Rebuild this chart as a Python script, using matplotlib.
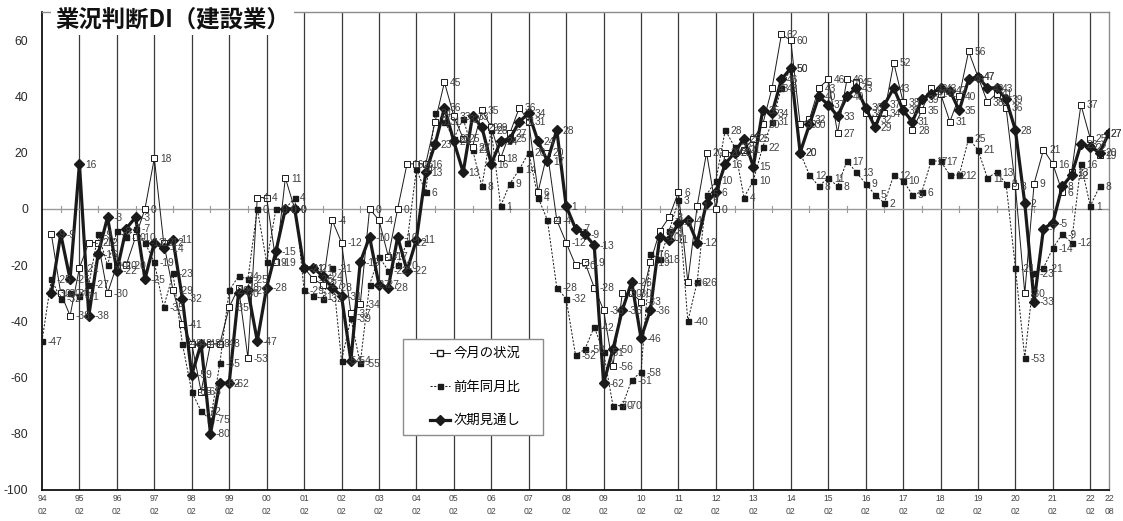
import numpy as np
import matplotlib
matplotlib.use("Agg")
import matplotlib.pyplot as plt
from matplotlib.lines import Line2D
from matplotlib.patches import Rectangle

plt.rcParams['font.family'] = ['Noto Sans CJK JP', 'DejaVu Sans']

# Quarterly survey points, 1994/02 .. 2022/08 (Feb, May, Aug, Nov)
years = ['94', '95', '96', '97', '98', '99', '00', '01', '02', '03', '04', '05', '06', '07',
         '08', '09', '10', '11', '12', '13', '14', '15', '16', '17', '18', '19', '20', '21', '22']
tick_labels = [f"{y}\n02" for y in years] + ["22\n08"]

N = None
# 今月の状況
current = [
    N, -9, -30, -38, -21, -12, -12, -30, -20, -20, -10, 0, 18, -12, -29,
    -41, -48, -65, -48, -48, -35, -28, -53, 4, 4, -19, 11, 0, -21, -25,
    -27, -4, -12, -37, -34, 0, -4, -17, 0, 16, 16, 16, 31, 45, 33,
    25, 22, 35, 29, 18, 27, 36, 31, 6, 20, -4, -12, -20, -19, -28,
    -36, -56, -30, -30, -33, -19, -8, -3, 6, -26, 1, 20, 0, 20, 20,
    21, 25, 30, 43, 62, 60, 30, 32, 43, 46, 27, 46, 45, 34, 32,
    34, 52, 38, 28, 35, 43, 41, 31, 40, 56, 47, 38, 41, 36, 8,
    -30, 9, 21, 16, 6, 13, 37, 25, 19, 27,
]
# 前年同月比
year_on_year = [
    -47, -25, -32, -30, -31, -27, -9, -20, -8, -10, -7, -12, -19, -35, -23,
    -48, -65, -72, -75, -55, -29, -24, -25, 0, -19, 0, 0, 4, -29, -31,
    -32, -21, -54, -39, -55, -27, -17, -22, -20, -12, 14, 6, 34, 31, 25,
    32, 21, 8, 28, 1, 9, 14, 20, 4, -4, -28, -32, -52, -50, -42,
    -51, -70, -70, -61, -58, -16, -18, -8, 3, -40, -26, 5, 10, 28, 22,
    4, 10, 22, 31, 43, 50, 20, 12, 8, 11, 8, 17, 13, 9, 5,
    2, 12, 10, 5, 6, 17, 17, 12, 12, 25, 21, 11, 13, 9, -21,
    -53, -23, -21, -14, -9, -12, 16, 1, 8, N,
]
# 次期見通し
outlook = [
    N, -30, -9, -25, 16, -38, -16, -3, -22, -7, -3, -25, -12, -14, -11,
    -32, -59, -48, -80, -62, -62, -30, -29, -47, -28, -15, 0, 0, -21, -21,
    -24, -28, -31, -54, -19, -10, -27, -28, -10, -22, -11, 13, 23, 36, 24,
    13, 33, 29, 16, 24, 25, 31, 34, 24, 17, 28, 1, -7, -9, -13,
    -62, -50, -36, -26, -46, -36, -10, -11, -5, -4, -12, 2, 6, 16, 20,
    25, 15, 35, 34, 46, 50, 20, 30, 40, 37, 33, 40, 43, 36, 29,
    37, 43, 35, 31, 39, 41, 43, 42, 35, 46, 47, 43, 43, 39, 28,
    2, -33, -7, -5, 8, 12, 23, 22, 20, 27,
]

def arr(v):
    return np.array([np.nan if x is None else x for x in v], dtype=float)

A, B, C = arr(current), arr(year_on_year), arr(outlook)
q = np.arange(len(C))
last = len(q) - 1

fig = plt.figure(figsize=(11.23, 5.21), dpi=100)
ax = fig.add_axes([42 / 1123, 1 - 490 / 521, (1109 - 42) / 1123, (490 - 12) / 521])
ax.set_xlim(0, last)
ax.set_ylim(-100, 70)

# year separators and zero line
for x in range(4, last, 4):
    ax.axvline(x, color='#3a3a3a', lw=0.9, zorder=1)
ax.axhline(0, color='#9a9a9a', lw=1.0, zorder=1)
for x in range(2, len(q), 4):
    ax.plot([x, x], [-1.0, 1.0], color='#9a9a9a', lw=0.8, zorder=1)

ink = '#1a1a1a'
ax.plot(q, B, color=ink, lw=0.7, ls=(0, (2.2, 1.6)), marker='s', ms=3.6,
        mfc=ink, mec=ink, zorder=3)
ax.plot(q, A, color=ink, lw=0.7, marker='s', ms=4.4, mfc='white', mec=ink,
        mew=0.7, zorder=4)
ax.plot(q, C, color=ink, lw=2.3, marker='D', ms=4.6, mfc=ink, mec=ink, zorder=5)

label_font = ['Liberation Sans', 'DejaVu Sans']
for series in (B, A, C):
    for xi, v in zip(q, series):
        if np.isnan(v):
            continue
        dx = 1.2 if xi == last else 4.0
        ax.annotate(f"{int(v)}", (xi, v), xytext=(dx, -0.5), textcoords='offset points',
                    va='center', ha='left', fontsize=7.4, color='#404040', zorder=6,
                    family=label_font, annotation_clip=False)

ax.set_yticks(np.arange(-100, 61, 20))
ax.set_yticklabels([str(v) for v in range(-100, 61, 20)], fontsize=8.8, color='#2a2a2a',
                   family=label_font)
ax.tick_params(axis='y', length=0, pad=10)
xt = list(range(0, 113, 4)) + [114]
ax.set_xticks(xt)
ax.set_xticklabels(tick_labels, fontsize=6.2, color='#444444', linespacing=1.55,
                   family=label_font)
ax.tick_params(axis='x', length=0, pad=3)

for s in ('left', 'bottom'):
    ax.spines[s].set_color('#111111')
    ax.spines[s].set_linewidth(1.3)
for s in ('top', 'right'):
    ax.spines[s].set_color('#8c8c8c')
    ax.spines[s].set_linewidth(1.0)

# legend box
box_x0, box_x1 = (403 - 42) / 1067, (543 - 42) / 1067
box_y0, box_y1 = (490 - 435) / 478, (490 - 339) / 478
ax.add_patch(Rectangle((box_x0, box_y0), box_x1 - box_x0, box_y1 - box_y0,
                       transform=ax.transAxes, facecolor='white', edgecolor='#8c8c8c',
                       lw=1.0, zorder=8))
handles = [
    Line2D([], [], color=ink, lw=0.7, marker='s', ms=4.4, mfc='white', mec=ink),
    Line2D([], [], color=ink, lw=0.7, ls=(0, (2.2, 1.6)), marker='s', ms=3.6, mfc=ink, mec=ink),
    Line2D([], [], color=ink, lw=2.3, marker='D', ms=4.6, mfc=ink, mec=ink),
]
leg = ax.legend(handles, ['今月の状況', '前年同月比', '次期見通し'],
                loc='center', bbox_to_anchor=((box_x0 + box_x1) / 2 + 0.002, (box_y0 + box_y1) / 2),
                frameon=False, fontsize=9.6, handlelength=1.5, handletextpad=0.3,
                labelspacing=1.45, borderpad=0)
leg.set_zorder(9)

fig.text(55 / 1123, 1 - 19 / 521, '業況判断DI（建設業）', fontsize=16.8, fontweight='bold',
         color='#111111', va='center', ha='left',
         bbox=dict(facecolor='white', edgecolor='none', pad=3))

fig.savefig('out.png', dpi=100)
